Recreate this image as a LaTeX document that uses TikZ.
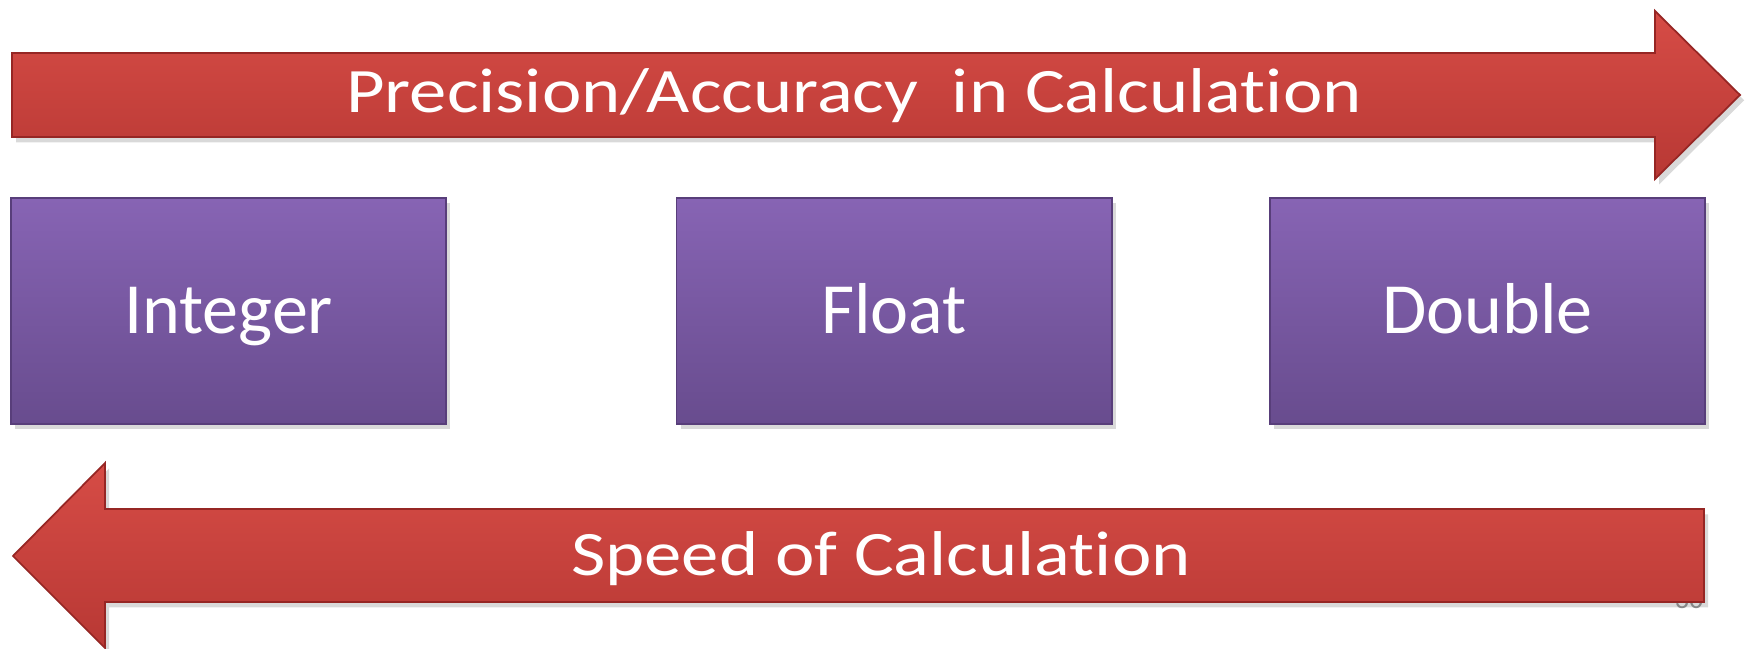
\documentclass[tikz,border=0pt]{standalone}
\usepackage{fontspec}
\setmainfont[Ligatures=NoCommon]{Carlito}
\usetikzlibrary{shadows}
\definecolor{boxtop}{RGB}{135,100,180}
\definecolor{boxbot}{RGB}{104,76,142}
\definecolor{boxedge}{RGB}{88,62,122}
\definecolor{arrowtop}{RGB}{214,76,70}
\definecolor{arrowbot}{RGB}{184,56,52}
\definecolor{arrowedge}{RGB}{150,38,36}
\definecolor{numgray}{RGB}{137,137,137}
\newcommand{\widetext}[1]{\scalebox{1.18}[1]{#1}}
\tikzset{
  typebox/.style={
    draw=boxedge,
    line width=0.5pt,
    top color=boxtop,
    bottom color=boxbot,
    minimum width=4.35cm,
    minimum height=2.26cm,
    text=white,
    font=\fontsize{20.5}{24}\selectfont,
    text height=13pt,
    text depth=0pt,
    drop shadow={opacity=0.3, shadow xshift=1.2pt, shadow yshift=-1.5pt}
  },
  redarrow/.style={
    draw=arrowedge,
    line width=0.5pt,
    top color=arrowtop,
    bottom color=arrowbot,
    drop shadow={opacity=0.3, shadow xshift=1.2pt, shadow yshift=-1.5pt}
  },
  arrowlabel/.style={
    text=white,
    anchor=base,
    inner sep=0pt,
    font=\fontsize{18}{22}\selectfont
  }
}
\begin{document}
\begin{tikzpicture}[x=0.01cm,y=-0.01cm]
  \useasboundingbox (0,0) rectangle (1745,649);
  % precision arrow, pointing right
  \path[redarrow] (12,53) -- (1655,53) -- (1655,11) -- (1740,95)
    -- (1655,179) -- (1655,137) -- (12,137) -- cycle;
  \node[arrowlabel] (prec) at (854,113) {\widetext{Precision/Accuracy\ \ in Calculation}};
  % the three types
  \node[typebox] (int) at (228.5,311) {Integer};
  \node[typebox] (flt) at (894,311) {Float};
  \node[typebox] (dbl) at (1487.5,311) {Double};
  % slide number, mostly hidden behind the lower arrow
  \node[text=numgray, font=\fontsize{8}{9}\selectfont, anchor=base, inner sep=0pt] (num) at (1689,609) {30};
  % speed arrow, pointing left
  \path[redarrow] (1704,509) -- (105,509) -- (105,463) -- (13,556)
    -- (105,648) -- (105,602) -- (1704,602) -- cycle;
  \node[arrowlabel] (speed) at (881,575) {\widetext{Speed of Calculation}};
\end{tikzpicture}
\end{document}
